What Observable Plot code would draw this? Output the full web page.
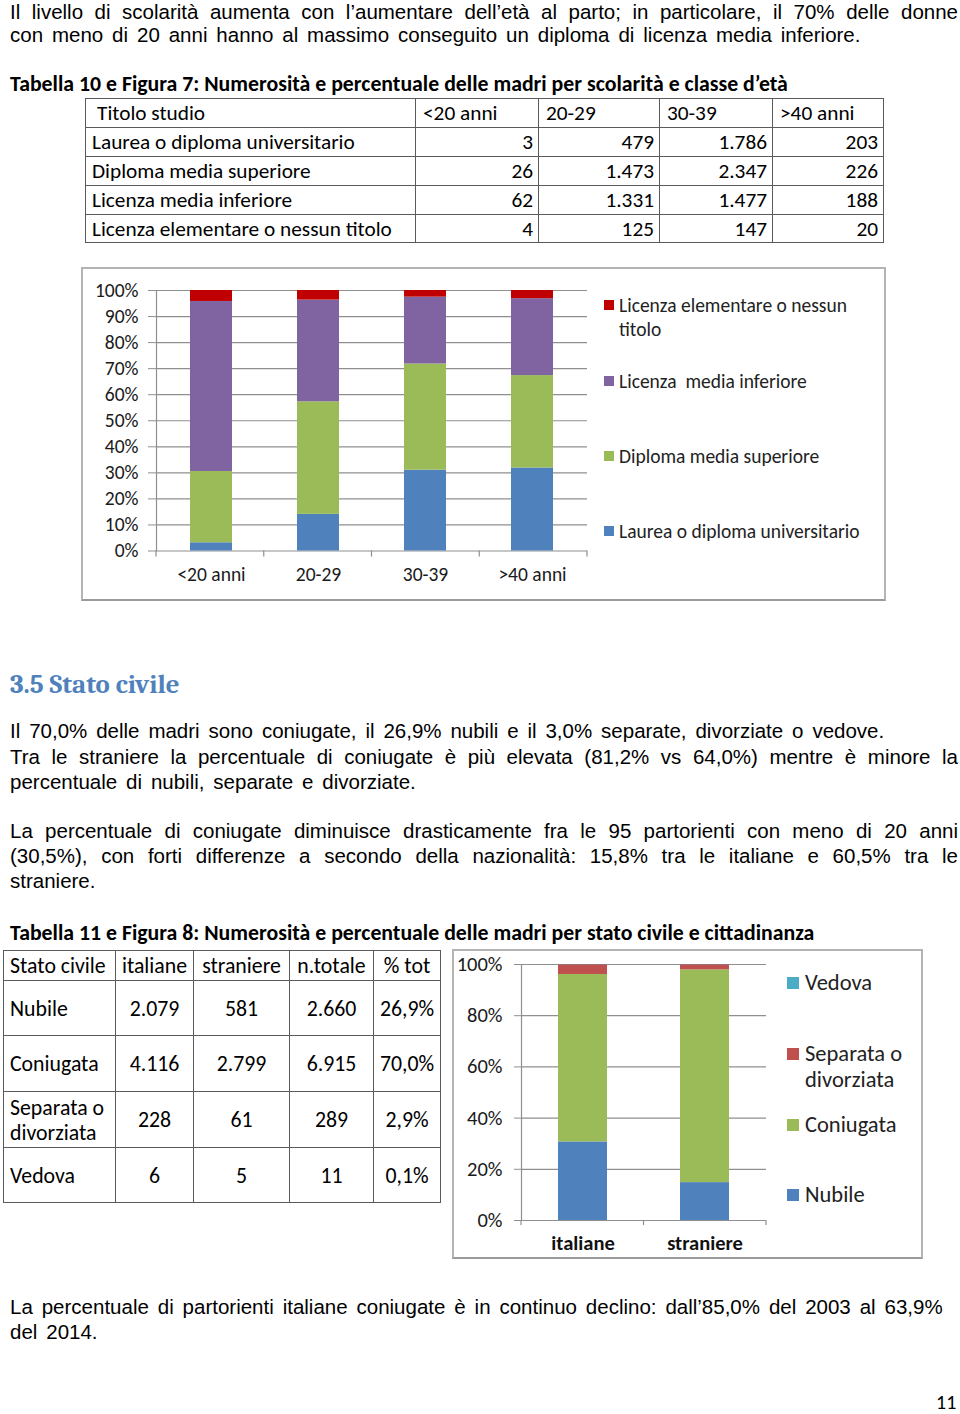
<!DOCTYPE html>
<html>
<head>
<meta charset="utf-8">
<script src="https://cdn.jsdelivr.net/npm/d3@7"></script>
<script src="https://cdn.jsdelivr.net/npm/@observablehq/plot@0.6"></script>
<style>
  html, body { margin: 0; padding: 0; background: #fff; }
  #page { position: relative; width: 960px; height: 1414px; overflow: hidden; background: #fff; }
  .t { position: absolute; left: 10px; width: 948px; font-family: "Liberation Sans", Arial, sans-serif; font-size: 20.5px; word-spacing: 3.2px; line-height: 24px; color: #000; white-space: nowrap; }
  .j { text-align: justify; text-align-last: justify; white-space: normal; word-spacing: 0; }
  .ttl { position: absolute; left: 10px; font-family: Carlito, Calibri, Lato, sans-serif; font-weight: bold; font-size: 21.8px; line-height: 24px; white-space: nowrap; color: #000; }
  .h { position: absolute; left: 10px; top: 669px; font-family: Cambria, "Liberation Serif", serif; font-weight: bold; font-size: 26.8px; color: #4F81BD; white-space: nowrap; }
  table { position: absolute; border-collapse: collapse; font-family: Carlito, Calibri, Lato, sans-serif; color: #000; table-layout: fixed; }
  td { border: 1.5px solid #5a5a5a; padding: 0; white-space: nowrap; overflow: hidden; }
  #tab1 td { font-size: 21.3px; line-height: 26px; }
  #tab1 td.n { text-align: right; padding-right: 5px; }
  #tab1 td.l { padding-left: 6px; }
  #tab2 td { font-size: 21.8px; text-align: center; line-height: 25px; }
  #tab2 td.l { text-align: left; padding-left: 6px; }
  .box { position: absolute; box-sizing: border-box; border: 2px solid #b4b4b4; border-bottom-color: #9a9a9a; }
  .plot { position: absolute; }
  .lg { position: absolute; font-family: Carlito, Calibri, Lato, sans-serif; color: #222; white-space: nowrap; }
  .sw { position: absolute; }
</style>
</head>
<body>
<div id="page">
  <div class="t j" style="top:0px">Il livello di scolarità aumenta con l’aumentare dell’età al parto; in particolare, il 70% delle donne</div>
  <div class="t" style="top:23px">con meno di 20 anni hanno al massimo conseguito un diploma di licenza media inferiore.</div>
  <div class="ttl" style="top:72px">Tabella 10 e Figura 7: Numerosità e percentuale delle madri per scolarità e classe d’età</div>
  <div id="tab1host"></div>

  <div class="box" style="left:81px; top:267px; width:805px; height:334px;"></div>
  <div id="chart1" class="plot" style="left:82px; top:268px;"></div>
  <div id="legend1"></div>

  <div class="h">3.5 Stato civile</div>
  <div class="t" style="top:719px">Il 70,0% delle madri sono coniugate, il 26,9% nubili e il 3,0% separate, divorziate o vedove.</div>
  <div class="t j" style="top:745px">Tra le straniere la percentuale di coniugate è più elevata (81,2% vs 64,0%) mentre è minore la</div>
  <div class="t" style="top:770px">percentuale di nubili, separate e divorziate.</div>
  <div class="t j" style="top:819px">La percentuale di coniugate diminuisce drasticamente fra le 95 partorienti con meno di 20 anni</div>
  <div class="t j" style="top:844px">(30,5%), con forti differenze a secondo della nazionalità: 15,8% tra le italiane e 60,5% tra le</div>
  <div class="t" style="top:869px">straniere.</div>
  <div class="ttl" style="top:921px">Tabella 11 e Figura 8: Numerosità e percentuale delle madri per stato civile e cittadinanza</div>
  <div id="tab2host"></div>

  <div class="box" style="left:452px; top:949px; width:471px; height:310px;"></div>
  <div id="chart2" class="plot" style="left:453px; top:950px;"></div>
  <div id="legend2"></div>

  <div class="t" style="top:1295px">La percentuale di partorienti italiane coniugate è in continuo declino: dall’85,0% del 2003 al 63,9%</div>
  <div class="t" style="top:1320px">del 2014.</div>
  <div class="lg" style="left:936px; top:1392px; font-size:20px; line-height:20px; color:#000;">11</div>
</div>
<script>
// ---------- DATA: Tabella 10 / Figura 7 ----------
const ages = ["<20 anni", "20-29", "30-39", ">40 anni"];
const eduLevels = ["Laurea o diploma universitario", "Diploma media superiore", "Licenza media inferiore", "Licenza elementare o nessun titolo"];
const laurea = [3, 479, 1786, 203];
const diplomaSup = [26, 1473, 2347, 226];
const mediaInf = [62, 1331, 1477, 188];
const elementare = [4, 125, 147, 20];
const laureaLbl = ["3", "479", "1.786", "203"];
const diplomaLbl = ["26", "1.473", "2.347", "226"];
const mediaLbl = ["62", "1.331", "1.477", "188"];
const elemLbl = ["4", "125", "147", "20"];
const legend1Labels = ["Licenza elementare o nessun titolo", "Licenza  media inferiore", "Diploma media superiore", "Laurea o diploma universitario"];
const yTicks1 = [0, 0.1, 0.2, 0.3, 0.4, 0.5, 0.6, 0.7, 0.8, 0.9, 1];

// ---------- DATA: Tabella 11 / Figura 8 ----------
const tab2Header = ["Stato civile", "italiane", "straniere", "n.totale", "% tot"];
const stati = ["Nubile", "Coniugata", "Separata o divorziata", "Vedova"];
const italianeN = ["2.079", "4.116", "228", "6"];
const straniereN = ["581", "2.799", "61", "5"];
const totaleN = ["2.660", "6.915", "289", "11"];
const pctTot = ["26,9%", "70,0%", "2,9%", "0,1%"];
const groups = ["italiane", "straniere"];
// percentages as drawn in Figura 8
const pctItaliane = [30.7, 65.4, 3.8, 0.1];
const pctStraniere = [14.8, 83.1, 2.0, 0.1];
const yTicks2 = [0, 20, 40, 60, 80, 100];

const eduColors = ["#4F81BD", "#9BBB59", "#8064A2", "#C00000"];
const statoColors = ["#4F81BD", "#9BBB59", "#C0504D", "#4BACC6"];
const GRID = "#8f8f8f";
const FONT = "Carlito, Calibri, Lato, sans-serif";

// ---------- Table 1 ----------
(function () {
  const t = document.createElement("table");
  t.id = "tab1";
  t.style.left = "85px"; t.style.top = "98px"; t.style.width = "798px";
  const widths = [330, 123, 121, 113, 111];
  const cg = document.createElement("colgroup");
  widths.forEach(w => { const c = document.createElement("col"); c.style.width = w + "px"; cg.appendChild(c); });
  t.appendChild(cg);
  const head = ["Titolo studio", ...ages];
  let tr = document.createElement("tr"); tr.style.height = "29px";
  head.forEach((h, i) => { const td = document.createElement("td"); td.textContent = h; td.style.paddingLeft = i === 0 ? "11px" : "7px"; tr.appendChild(td); });
  t.appendChild(tr);
  const rows = [laureaLbl, diplomaLbl, mediaLbl, elemLbl];
  rows.forEach((r, k) => {
    tr = document.createElement("tr"); tr.style.height = k === 3 ? "28px" : "29px";
    const td0 = document.createElement("td"); td0.className = "l"; td0.textContent = eduLevels[k]; tr.appendChild(td0);
    r.forEach(v => { const td = document.createElement("td"); td.className = "n"; td.textContent = v; tr.appendChild(td); });
    t.appendChild(tr);
  });
  document.getElementById("tab1host").appendChild(t);
})();

// ---------- Table 2 ----------
(function () {
  const t = document.createElement("table");
  t.id = "tab2";
  t.style.left = "3px"; t.style.top = "950px"; t.style.width = "437px";
  const widths = [112, 78, 96, 84, 67];
  const cg = document.createElement("colgroup");
  widths.forEach(w => { const c = document.createElement("col"); c.style.width = w + "px"; cg.appendChild(c); });
  t.appendChild(cg);
  let tr = document.createElement("tr"); tr.style.height = "30px";
  tab2Header.forEach((h, i) => { const td = document.createElement("td"); td.textContent = h; if (i === 0) td.className = "l"; tr.appendChild(td); });
  t.appendChild(tr);
  const hs = [55, 56, 56, 55];
  stati.forEach((s, k) => {
    tr = document.createElement("tr"); tr.style.height = hs[k] + "px";
    const td0 = document.createElement("td"); td0.className = "l";
    if (s === "Separata o divorziata") { td0.innerHTML = "Separata o<br>divorziata"; td0.style.whiteSpace = "normal"; }
    else td0.textContent = s;
    tr.appendChild(td0);
    [italianeN[k], straniereN[k], totaleN[k], pctTot[k]].forEach(v => { const td = document.createElement("td"); td.textContent = v; tr.appendChild(td); });
    t.appendChild(tr);
  });
  document.getElementById("tab2host").appendChild(t);
})();

// category divider ticks below the x axis (from the plot's frame)
function catTicks(n, len) {
  return (index, scales, values, dims) => {
    const g = d3.create("svg:g").attr("stroke", GRID).attr("stroke-width", 1.2);
    const x0 = dims.marginLeft, x1 = dims.width - dims.marginRight, yb = dims.height - dims.marginBottom;
    for (let i = 0; i <= n; i++) {
      const xx = x0 + (x1 - x0) * i / n;
      g.append("line").attr("x1", xx).attr("x2", xx).attr("y1", yb).attr("y2", yb + len);
    }
    return g.node();
  };
}

// ---------- Chart 1 ----------
const rows1 = [];
[laurea, diplomaSup, mediaInf, elementare].forEach((arr, k) => arr.forEach((v, i) => rows1.push({ age: ages[i], edu: eduLevels[k], value: v })));

const chart1 = Plot.plot({
  width: 803, height: 332,
  marginLeft: 74, marginRight: 298, marginTop: 22, marginBottom: 49.5,
  style: { fontFamily: FONT, fontSize: "19.5px", background: "transparent", overflow: "visible" },
  x: { domain: ages, paddingInner: 0.61, paddingOuter: 0.305, label: null },
  y: { domain: [0, 1], label: null },
  color: { domain: eduLevels, range: eduColors },
  marks: [
    Plot.gridY(yTicks1, { stroke: GRID, strokeOpacity: 1, strokeWidth: 1.2 }),
    Plot.axisY({ ticks: yTicks1, tickSize: 8, tickPadding: 10, tickFormat: d3.format(".0%"), stroke: GRID, strokeOpacity: 1, fill: "#1a1a1a", label: null }),
    Plot.axisX({ tickSize: 0, tickPadding: 16, fill: "#1a1a1a", label: null }),
    Plot.frame({ anchor: "left", stroke: GRID, strokeWidth: 1.2 }),
    catTicks(ages.length, 6),
    Plot.barY(rows1, Plot.stackY({ offset: "normalize", order: eduLevels, x: "age", y: "value", fill: "edu" }))
  ]
});
document.getElementById("chart1").appendChild(chart1);

// legend 1 (HTML)
(function () {
  const host = document.getElementById("legend1");
  const items = [
    { c: eduColors[3], lines: ["Licenza elementare o nessun", "titolo"], y: 305 },
    { c: eduColors[2], lines: [legend1Labels[1]], y: 381 },
    { c: eduColors[1], lines: [legend1Labels[2]], y: 456 },
    { c: eduColors[0], lines: [legend1Labels[3]], y: 531 }
  ];
  items.forEach(it => {
    const sw = document.createElement("div"); sw.className = "sw";
    Object.assign(sw.style, { left: "604px", top: (it.y - 5) + "px", width: "10px", height: "10px", background: it.c });
    host.appendChild(sw);
    it.lines.forEach((ln, j) => {
      const d = document.createElement("div"); d.className = "lg"; d.textContent = ln;
      Object.assign(d.style, { left: "619px", top: (it.y - 12 + j * 24) + "px", fontSize: "19.5px", lineHeight: "24px", whiteSpace: "pre" });
      host.appendChild(d);
    });
  });
})();

// ---------- Chart 2 ----------
const rows2 = [];
[pctItaliane, pctStraniere].forEach((arr, g) => arr.forEach((v, k) => rows2.push({ group: groups[g], stato: stati[k], value: v })));

const chart2 = Plot.plot({
  width: 469, height: 308,
  marginLeft: 68, marginRight: 156, marginTop: 14, marginBottom: 38,
  style: { fontFamily: FONT, fontSize: "20.5px", background: "transparent", overflow: "visible" },
  x: { domain: groups, paddingInner: 0.6, paddingOuter: 0.3, label: null },
  y: { domain: [0, 100], label: null },
  color: { domain: stati, range: statoColors },
  marks: [
    Plot.gridY(yTicks2, { stroke: GRID, strokeOpacity: 1, strokeWidth: 1.2 }),
    Plot.axisY({ ticks: yTicks2, tickSize: 7, tickPadding: 12, tickFormat: d => d + "%", stroke: GRID, strokeOpacity: 1, fill: "#1a1a1a", label: null }),
    Plot.axisX({ tickSize: 0, tickPadding: 15, fill: "#111", fontWeight: "bold", label: null }),
    Plot.frame({ anchor: "left", stroke: GRID, strokeWidth: 1.2 }),
    catTicks(groups.length, 5),
    Plot.barY(rows2, Plot.stackY({ order: stati, x: "group", y: "value", fill: "stato" }))
  ]
});
document.getElementById("chart2").appendChild(chart2);

// legend 2 (HTML)
(function () {
  const host = document.getElementById("legend2");
  const items = [
    { c: statoColors[3], lines: ["Vedova"], y: 983 },
    { c: statoColors[2], lines: ["Separata o", "divorziata"], y: 1054 },
    { c: statoColors[1], lines: ["Coniugata"], y: 1125 },
    { c: statoColors[0], lines: ["Nubile"], y: 1195 }
  ];
  items.forEach(it => {
    const sw = document.createElement("div"); sw.className = "sw";
    Object.assign(sw.style, { left: "787px", top: (it.y - 6) + "px", width: "12px", height: "12px", background: it.c });
    host.appendChild(sw);
    it.lines.forEach((ln, j) => {
      const d = document.createElement("div"); d.className = "lg"; d.textContent = ln;
      Object.assign(d.style, { left: "805px", top: (it.y - 13 + j * 26) + "px", fontSize: "22.5px", lineHeight: "26px" });
      host.appendChild(d);
    });
  });
})();
</script>
</body>
</html>
